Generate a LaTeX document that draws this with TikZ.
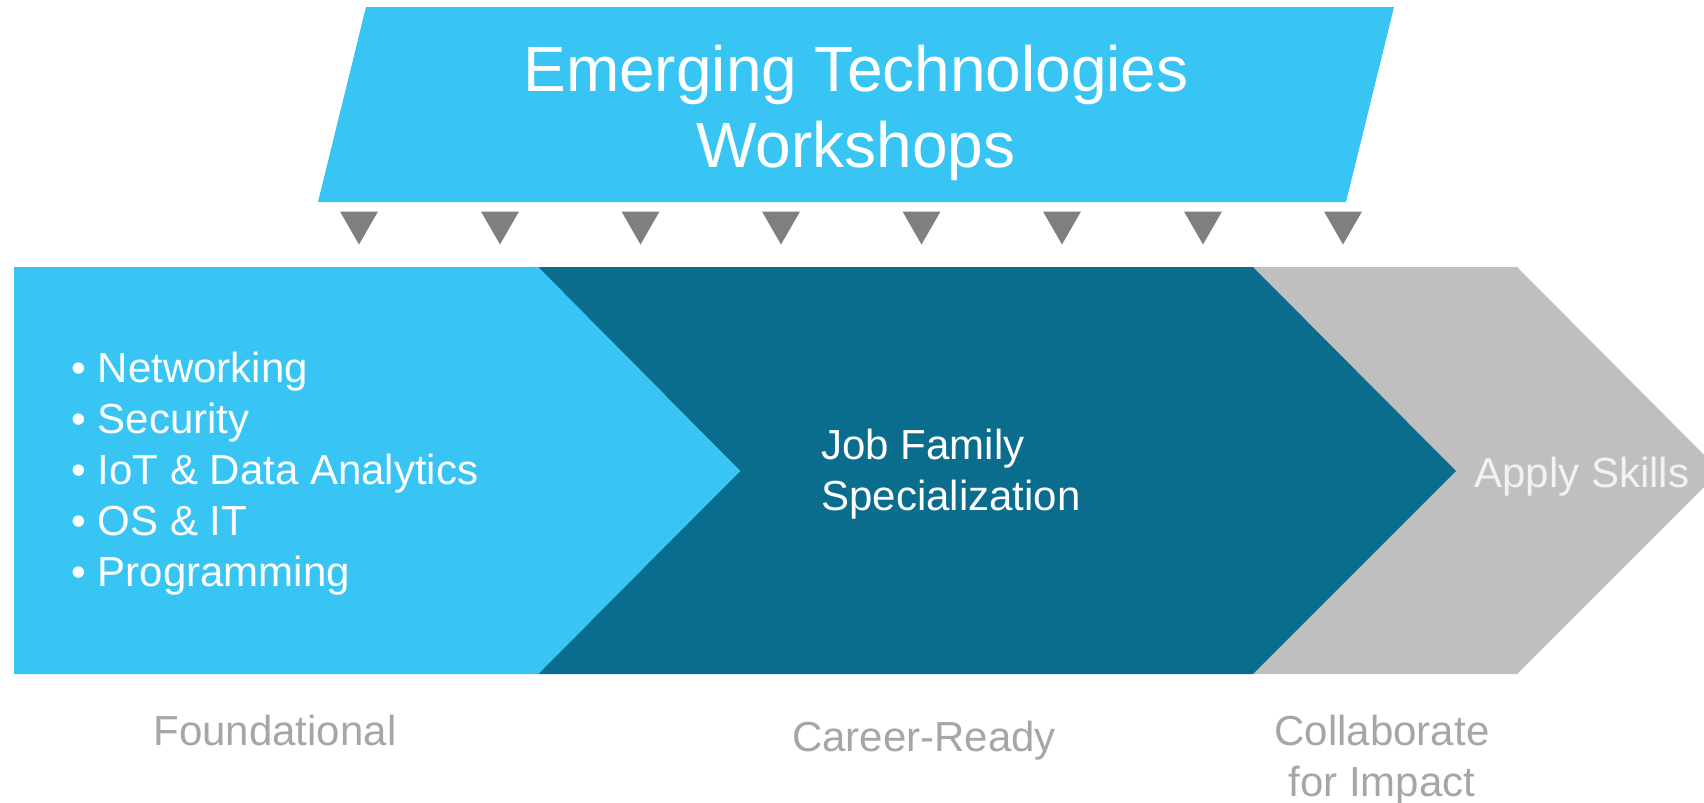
\documentclass[tikz,border=0pt]{standalone}
\usepackage{fontspec}
\setmainfont{Liberation Sans}
\definecolor{lightblue}{HTML}{39C5F3}
\definecolor{darkteal}{HTML}{0B6D8E}
\definecolor{chevgrey}{HTML}{BFBFBF}
\definecolor{trigrey}{HTML}{7F7F7F}
\definecolor{labelgrey}{HTML}{A6A6A6}
\definecolor{offwhite}{HTML}{F2F2F2}
\begin{document}
\begin{tikzpicture}[x=0.5pt,y=-0.5pt,
  titletext/.style={text=white, inner sep=0pt, align=center, font=\fontsize{32}{38}\selectfont},
  boxtext/.style={text=white, inner sep=0pt, align=left, font=\fontsize{21}{25.5}\selectfont},
  stagetext/.style={text=labelgrey, inner sep=0pt, align=center, font=\fontsize{21}{25.3}\selectfont},
  marker/.style={fill=trigrey}]
\useasboundingbox (0,0) rectangle (1704,803);
\begin{scope}
  \clip (0,0) rectangle (1704,803);
  \fill[chevgrey] (1253,267) -- (1517,267) -- (1720,471) -- (1517,674) -- (1253,674) -- (1456,471) -- cycle;
  \fill[darkteal] (538,267) -- (1253,267) -- (1456,471) -- (1253,674) -- (538,674) -- (740,471) -- cycle;
  \fill[lightblue] (14,267) -- (538,267) -- (740,471) -- (538,674) -- (14,674) -- cycle;
\end{scope}
\fill[lightblue] (366,7) -- (1394,7) -- (1346,202) -- (318,202) -- cycle;
\foreach \cx in {359,500,640.5,781,921.5,1062,1203,1343}{
  \fill[marker] (\cx-19,211.5) -- (\cx+19,211.5) -- (\cx,244.5) -- cycle;
}
\node[titletext, anchor=north] (title) at (856,45) {Emerging Technologies\\Workshops};
\node[boxtext, anchor=north west] (topics) at (71,352) {• Networking\\• Security\\• IoT \& Data Analytics\\• OS \& IT\\• Programming};
\node[boxtext, anchor=north west] (job) at (821,429) {Job Family\\Specialization};
\node[boxtext, text=offwhite, anchor=north west] (apply) at (1474,457) {Apply Skills};
\node[stagetext, anchor=north] (found) at (275,715) {Foundational};
\node[stagetext, anchor=north] (career) at (924,721) {Career-Ready};
\node[stagetext, anchor=north] (collab) at (1382,715) {Collaborate\\for Impact};
\end{tikzpicture}
\end{document}
